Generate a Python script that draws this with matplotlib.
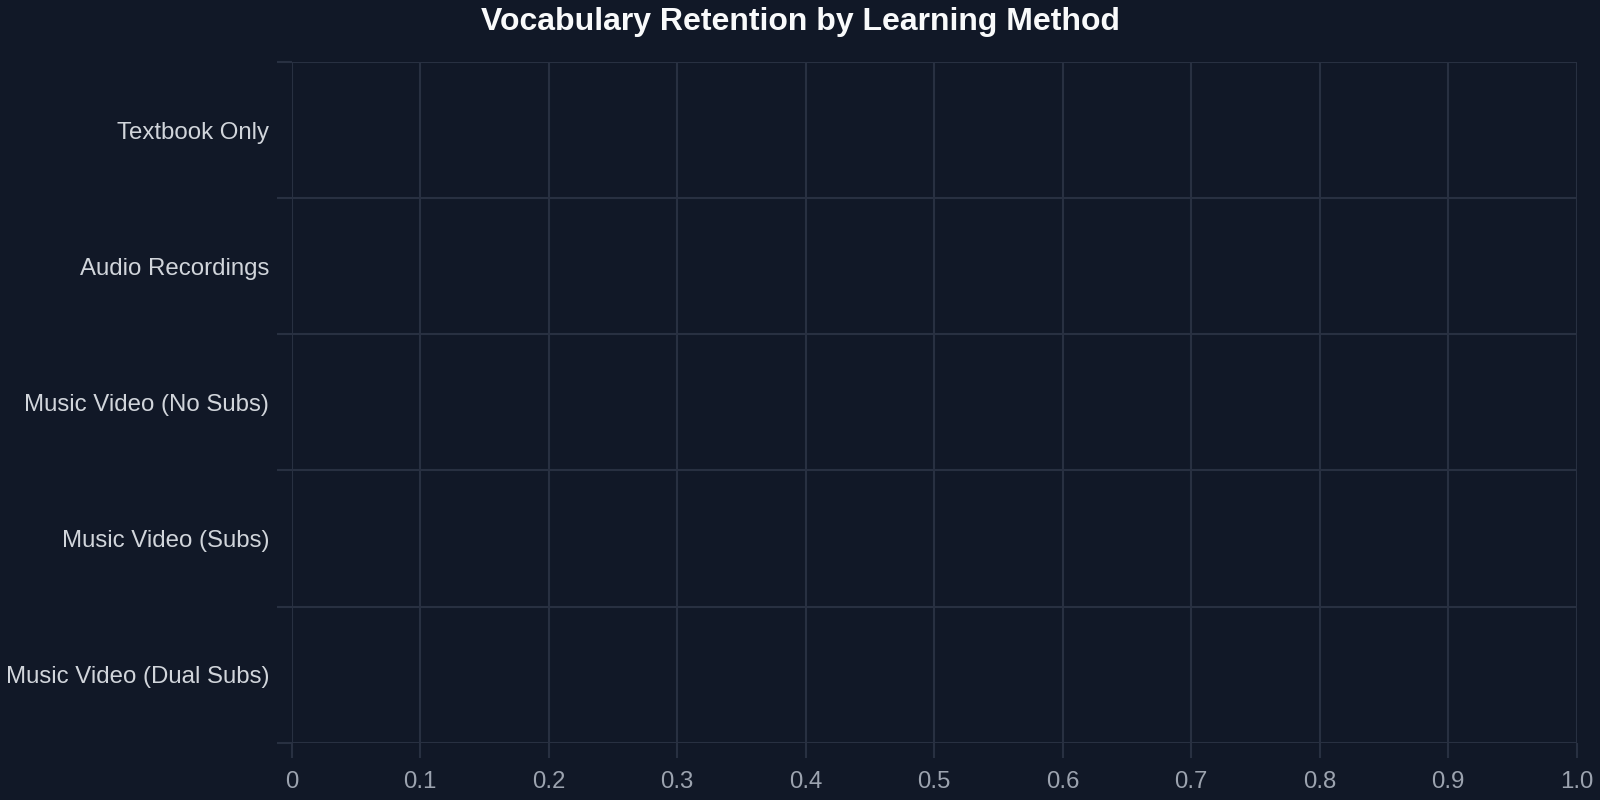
import matplotlib
matplotlib.use("Agg")
import matplotlib.pyplot as plt
import numpy as np

categories = ["Textbook Only", "Audio Recordings", "Music Video (No Subs)",
              "Music Video (Subs)", "Music Video (Dual Subs)"]
retention = [0, 0, 0, 0, 0]  # no visible bars in the reference
x_ticks = [0, 0.1, 0.2, 0.3, 0.4, 0.5, 0.6, 0.7, 0.8, 0.9, 1.0]
x_tick_labels = ["0", "0.1", "0.2", "0.3", "0.4", "0.5", "0.6", "0.7", "0.8", "0.9", "1.0"]
title = "Vocabulary Retention by Learning Method"

BG = "#111827"
GRID = "#283041"
YLAB = "#d1d5db"
XLAB = "#9ca3af"

plt.rcParams['font.family'] = ['Liberation Sans', 'DejaVu Sans']

fig = plt.figure(figsize=(16, 8), dpi=100, facecolor=BG)
ax = fig.add_axes([291.7/1600, 1-742.7/800, (1576.7-291.7)/1600, (742.7-62)/800])
ax.set_facecolor(BG)

n = len(categories)
ypos = np.arange(n)[::-1] + 0.5
ax.barh(ypos, retention, height=0.6, color="#60a5fa")

ax.set_xlim(0, 1.0)
ax.set_ylim(0, n)

ax.set_xticks(x_ticks)
ax.set_xticklabels(x_tick_labels)
ax.set_yticks(ypos)
ax.set_yticklabels(categories)
ax.set_yticks(np.arange(n + 1), minor=True)

for s in ax.spines.values():
    s.set_visible(False)

ax.grid(axis='x', which='major', color=GRID, linewidth=1.5)
ax.grid(axis='y', which='minor', color=GRID, linewidth=1.5)
ax.set_axisbelow(True)

ax.tick_params(axis='x', which='major', length=10.8, width=1.5, color=GRID,
               labelcolor=XLAB, labelsize=17.3, pad=9.5)
ax.tick_params(axis='y', which='major', length=0, labelcolor=YLAB,
               labelsize=17.3, pad=16.3)
ax.tick_params(axis='y', which='minor', length=10.8, width=1.5, color=GRID)

fig.text(0.5, 1-22/800, title, ha='center', va='center', color="#f9fafb",
         fontsize=23, fontweight='bold')

fig.savefig("out.png", dpi=100, facecolor=BG)
